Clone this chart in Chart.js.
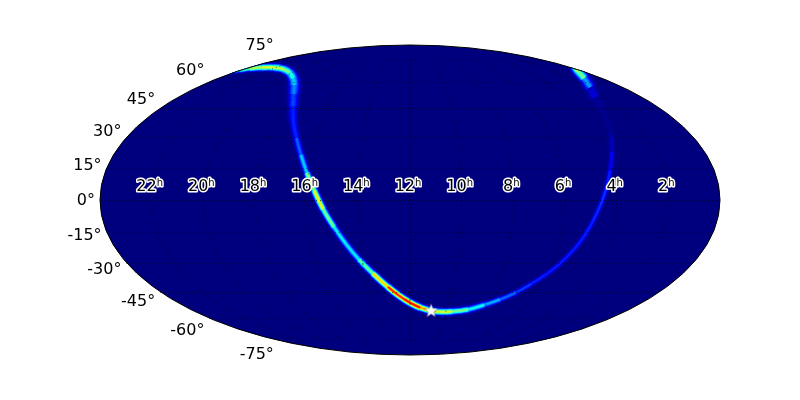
<!DOCTYPE html>
<html><head><meta charset="utf-8">
<style>html,body{margin:0;padding:0;background:#fff}canvas{display:block}</style>
<script src="https://cdn.jsdelivr.net/npm/chart.js@4"></script>
</head><body>
<div style="width:800px;height:400px"><canvas id="c" width="800" height="400"></canvas></div>
<script>
// Ridge of the sky map, in Mollweide map coordinates (-1..1 across the ellipse)
const ridgeX = [-0.5806,-0.5484,-0.5161,-0.4774,-0.4387,-0.4097,-0.3887,-0.3774,-0.3735,-0.3752,-0.3774,-0.3758,-0.3661,-0.3516,-0.3323,-0.3081,-0.2806,-0.2452,-0.2065,-0.1645,-0.1194,-0.0710,-0.0194,0.0323,0.0839,0.1355,0.1871,0.2387,0.2903,0.3419,0.3903,0.4387,0.4839,0.5258,0.5613,0.5903,0.6145,0.6323,0.6452,0.6516,0.6484,0.6355,0.6161,0.5968,0.5806,0.5613,0.5419,0.5290];
const ridgeY = [0.8290,0.8387,0.8484,0.8548,0.8548,0.8452,0.8226,0.7871,0.7419,0.6839,0.6065,0.5032,0.4000,0.2903,0.1742,0.0581,-0.0581,-0.1742,-0.2839,-0.3839,-0.4742,-0.5613,-0.6387,-0.6935,-0.7194,-0.7194,-0.7065,-0.6774,-0.6419,-0.5968,-0.5419,-0.4806,-0.4097,-0.3258,-0.2355,-0.1355,-0.0323,0.0710,0.1871,0.3097,0.4194,0.5161,0.5935,0.6645,0.7290,0.7871,0.8323,0.8710];
const ridgeValue = [0.40,0.45,0.55,0.60,0.62,0.58,0.48,0.38,0.30,0.24,0.18,0.16,0.20,0.27,0.42,0.68,0.62,0.42,0.36,0.40,0.60,0.80,0.93,0.85,0.65,0.58,0.45,0.36,0.28,0.22,0.18,0.17,0.17,0.17,0.17,0.18,0.20,0.19,0.17,0.10,0.035,0.015,0.02,0.06,0.18,0.42,0.62,0.62];
const ridgeSpread = [0.010,0.010,0.012,0.013,0.014,0.015,0.018,0.022,0.024,0.024,0.022,0.018,0.015,0.014,0.013,0.013,0.013,0.013,0.013,0.013,0.013,0.013,0.013,0.013,0.013,0.013,0.013,0.012,0.011,0.011,0.011,0.011,0.011,0.011,0.011,0.011,0.011,0.011,0.012,0.014,0.018,0.020,0.024,0.024,0.022,0.020,0.018,0.018];
const starX = [0.068];
const starY = [-0.716];
const decTicks = [75,60,45,30,15,0,-15,-30,-45,-60,-75];
const raTicks = [22,20,18,16,14,12,10,8,6,4,2];

const clamp01 = t => Math.max(0, Math.min(1, t));
const jet = v => {
  const r = clamp01(1.5 - Math.abs(4*v - 3));
  const g = clamp01(1.5 - Math.abs(4*v - 2));
  const b = clamp01(1.5 - Math.abs(4*v - 1));
  return `rgb(${Math.round(r*255)},${Math.round(g*255)},${Math.round(b*255)})`;
};

// Mollweide auxiliary angle
const aux = deg => {
  const phi = deg*Math.PI/180;
  let t = phi;
  for (let i = 0; i < 40; i++) {
    const d = (2*t + Math.sin(2*t) - Math.PI*Math.sin(phi)) / (2 + 2*Math.cos(2*t) + 1e-9);
    t -= d;
  }
  return t;
};
const project = (hours, deg) => {
  const t = aux(deg);
  return { x: ((12 - hours)/12)*Math.cos(t), y: Math.sin(t) };
};
const ellipsePath = chart => {
  const {ctx, scales:{x, y}} = chart;
  ctx.beginPath();
  ctx.ellipse(x.getPixelForValue(0), y.getPixelForValue(0),
    x.getPixelForValue(1)-x.getPixelForValue(0),
    y.getPixelForValue(0)-y.getPixelForValue(1), 0, 0, 2*Math.PI);
};

const skyPlugin = {
  id: 'sky',
  beforeDatasetsDraw(chart) {
    const {ctx} = chart;
    ctx.save();
    ellipsePath(chart);
    ctx.fillStyle = '#00007f';
    ctx.fill();
    ctx.restore();
  },
  beforeDatasetDraw(chart, args) {
    if (args.index === 0) return;
    const {ctx} = chart;
    ctx.save();
    ellipsePath(chart);
    ctx.clip();
    ctx.filter = 'blur(0.7px)';
  },
  afterDatasetDraw(chart, args) {
    if (args.index === 0) return;
    const {ctx, scales:{x, y}} = chart;
    ctx.restore();
    if (args.index !== 1) return;
    ctx.save();
    ctx.strokeStyle = 'rgba(0,0,0,0.8)';
    ctx.lineWidth = 0.8;
    ctx.setLineDash([1, 3]);
    decTicks.forEach(d => {
      const t = aux(d), c = Math.cos(t), s = Math.sin(t);
      const py = Math.round(y.getPixelForValue(s)) + 0.5;
      ctx.beginPath();
      ctx.moveTo(x.getPixelForValue(-c), py);
      ctx.lineTo(x.getPixelForValue(c), py);
      ctx.stroke();
    });
    raTicks.concat([12]).forEach(h => {
      ctx.beginPath();
      for (let d = -75; d <= 75; d += 1) {
        const p = project(h, d);
        const px = x.getPixelForValue(p.x), py = y.getPixelForValue(p.y);
        d === -75 ? ctx.moveTo(px, py) : ctx.lineTo(px, py);
      }
      ctx.stroke();
    });
    ctx.restore();
  },
  afterDatasetsDraw(chart) {
    const {ctx, scales:{x, y}} = chart;
    ctx.save();
    ellipsePath(chart);
    ctx.strokeStyle = '#000';
    ctx.lineWidth = 1;
    ctx.stroke();

    // Declination labels, outside the ellipse
    ctx.font = '16px "DejaVu Sans"';
    ctx.fillStyle = '#000';
    ctx.textAlign = 'right';
    ctx.textBaseline = 'middle';
    decTicks.forEach(d => {
      const t = aux(d);
      const px = x.getPixelForValue(-Math.cos(t)) - 5;
      const py = y.getPixelForValue(Math.sin(t)*1.10) + 0.5;
      ctx.fillText(d + '°', px, py);
    });

    // Right ascension labels, above the equator
    const py = y.getPixelForValue(0) - 13;
    ctx.lineJoin = 'round';
    raTicks.forEach(h => {
      const cx = x.getPixelForValue(project(h, 0).x) - 2;
      const num = String(h);
      ctx.font = '16px "DejaVu Sans"';
      const wn = ctx.measureText(num).width;
      ctx.font = '10px "DejaVu Sans"';
      const wh = ctx.measureText('h').width;
      const left = cx - (wn + wh)/2;
      const draw = (txt, tx, ty, f) => {
        ctx.font = f;
        ctx.textAlign = 'left';
        ctx.strokeStyle = '#fff';
        ctx.lineWidth = 3;
        ctx.strokeText(txt, tx, ty);
        ctx.fillStyle = '#000';
        ctx.fillText(txt, tx, ty);
      };
      draw(num, left, py, '16px "DejaVu Sans"');
      draw('h', left + wn, py - 4, '10px "DejaVu Sans"');
    });
    ctx.restore();
  }
};

// White star marker
const starImage = document.createElement('canvas');
starImage.width = starImage.height = 17;
(() => {
  const s = starImage.getContext('2d');
  s.beginPath();
  for (let i = 0; i < 10; i++) {
    const r = i % 2 ? 3.0 : 7.5, a = -Math.PI/2 + i*Math.PI/5;
    s[i ? 'lineTo' : 'moveTo'](8.5 + r*Math.cos(a), 8.5 + r*Math.sin(a));
  }
  s.closePath();
  s.fillStyle = '#fff';
  s.strokeStyle = 'rgba(0,0,0,0.6)';
  s.lineWidth = 0.5;
  s.fill();
  s.stroke();
})();

const points = ridgeX.map((vx, i) => ({x: vx, y: ridgeY[i]}));
const pxPerUnit = 155;
const levels = [];
for (let l = 0.96; l > 0.01; l -= 0.035) levels.push(l);

const ridgeLayers = levels.map(level => ({
  type: 'line',
  data: points,
  parsing: false,
  pointRadius: 0,
  fill: false,
  tension: 0.4,
  borderCapStyle: 'butt',
  borderJoinStyle: 'round',
  borderColor: jet(level),
  borderWidth: 1,
  segment: {
    borderColor: ctx => {
      const v = (ridgeValue[ctx.p0DataIndex] + ridgeValue[ctx.p1DataIndex]) / 2;
      return v > level ? jet(level) : 'rgba(0,0,0,0)';
    },
    borderWidth: ctx => {
      const a = ctx.p0DataIndex, b = ctx.p1DataIndex;
      const v = (ridgeValue[a] + ridgeValue[b]) / 2;
      const sp = (ridgeSpread[a] + ridgeSpread[b]) / 2;
      if (v <= level) return 1;
      return Math.max(0.4, 2*sp*pxPerUnit*Math.sqrt(2*Math.log(v/level)));
    }
  }
}));

new Chart(document.getElementById('c'), {
  type: 'scatter',
  data: {
    datasets: [
      { type: 'scatter', data: starX.map((vx, i) => ({x: vx, y: starY[i]})),
        pointStyle: starImage, pointRadius: 8, showLine: false },
      ...ridgeLayers
    ]
  },
  options: {
    responsive: false,
    animation: false,
    layout: { padding: 0, autoPadding: false },
    plugins: { legend: { display: false }, tooltip: { enabled: false } },
    scales: {
      x: { type: 'linear', display: false, min: -410/310, max: 390/310 },
      y: { type: 'linear', display: false, min: -200/155, max: 200/155 }
    }
  },
  plugins: [skyPlugin]
});
</script>
</body></html>
